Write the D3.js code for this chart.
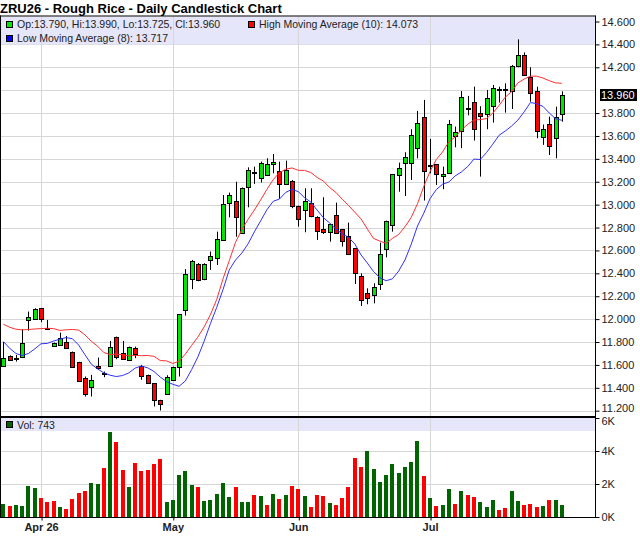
<!DOCTYPE html>
<html>
<head>
<meta charset="utf-8">
<script src="https://cdn.jsdelivr.net/npm/d3@7"></script>
<style>
  body { margin: 0; background: #fff; }
  svg { display: block; font-family: "Liberation Sans", Arial, sans-serif; }
</style>
</head>
<body>
<svg id="chart" width="640" height="536"></svg>
<script>
// trading sessions, 24 Mar - 31 Jul 2026
var dates = [
  '2026-03-24','2026-03-25','2026-03-26','2026-03-27','2026-03-30','2026-03-31',
  '2026-04-01','2026-04-02','2026-04-06','2026-04-07','2026-04-08','2026-04-09','2026-04-10',
  '2026-04-13','2026-04-14','2026-04-15','2026-04-16','2026-04-17','2026-04-20','2026-04-21',
  '2026-04-22','2026-04-23','2026-04-24','2026-04-27','2026-04-28','2026-04-29','2026-04-30',
  '2026-05-01','2026-05-04','2026-05-05','2026-05-06','2026-05-07','2026-05-08','2026-05-11',
  '2026-05-12','2026-05-13','2026-05-14','2026-05-15','2026-05-18','2026-05-19','2026-05-20',
  '2026-05-21','2026-05-22','2026-05-26','2026-05-27','2026-05-28','2026-05-29',
  '2026-06-01','2026-06-02','2026-06-03','2026-06-04','2026-06-05','2026-06-08','2026-06-09',
  '2026-06-10','2026-06-11','2026-06-12','2026-06-15','2026-06-16','2026-06-17','2026-06-18',
  '2026-06-22','2026-06-23','2026-06-24','2026-06-25','2026-06-26','2026-06-29','2026-06-30',
  '2026-07-01','2026-07-02','2026-07-06','2026-07-07','2026-07-08','2026-07-09','2026-07-10',
  '2026-07-13','2026-07-14','2026-07-15','2026-07-16','2026-07-17','2026-07-20','2026-07-21',
  '2026-07-22','2026-07-23','2026-07-24','2026-07-27','2026-07-28','2026-07-29','2026-07-30',
  '2026-07-31'
];

var opens = [
  11.597, 11.679, 11.655, 11.664, 11.993, 11.999, 12.095, 11.926, 11.766, 11.769,
  11.798, 11.711, 11.624, 11.484, 11.405, 11.592, 11.530, 11.597, 11.842, 11.702,
  11.644, 11.749, 11.592, 11.513, 11.440, 11.292, 11.344, 11.466, 11.583, 12.081,
  12.349, 12.479, 12.348, 12.517, 12.531, 12.691, 13.012, 13.032, 12.750, 13.151,
  13.285, 13.236, 13.260, 13.353, 13.298, 13.181, 13.210, 12.989, 12.954, 13.012,
  12.896, 12.788, 12.756, 12.910, 12.785, 12.726, 12.619, 12.377, 12.226, 12.217,
  12.307, 12.610, 12.822, 13.255, 13.368, 13.362, 13.493, 13.763, 13.335, 13.353,
  13.254, 13.274, 13.606, 13.638, 13.840, 13.897, 13.798, 13.792, 13.862, 14.014,
  14.011, 13.996, 14.212, 14.308, 14.113, 13.993, 13.589, 13.702, 13.580, 13.790
];
var highs = [
  11.800, 11.684, 11.687, 11.912, 12.066, 12.095, 12.098, 11.993, 11.795, 11.882,
  11.853, 11.717, 11.627, 11.499, 11.513, 11.664, 11.542, 11.810, 11.848, 11.810,
  11.760, 11.760, 11.600, 11.515, 11.442, 11.295, 11.510, 11.585, 12.045, 12.437,
  12.517, 12.490, 12.488, 12.590, 12.764, 13.084, 13.105, 13.200, 13.150, 13.326,
  13.332, 13.376, 13.405, 13.443, 13.376, 13.385, 13.215, 12.992, 13.143, 13.143,
  12.899, 13.065, 12.832, 13.018, 12.788, 12.843, 12.622, 12.400, 12.269, 12.313,
  12.668, 12.860, 13.268, 13.367, 13.458, 13.659, 13.819, 13.915, 13.574, 13.356,
  13.332, 13.740, 13.682, 13.993, 13.950, 14.031, 13.860, 14.002, 14.046, 14.030,
  14.060, 14.220, 14.444, 14.330, 14.200, 14.030, 13.700, 13.769, 13.856, 13.990
];
var lows = [
  11.595, 11.640, 11.629, 11.660, 11.900, 11.995, 11.973, 11.912, 11.760, 11.766,
  11.744, 11.578, 11.455, 11.324, 11.324, 11.568, 11.493, 11.594, 11.650, 11.650,
  11.640, 11.659, 11.470, 11.440, 11.237, 11.202, 11.340, 11.460, 11.499, 12.031,
  12.262, 12.330, 12.340, 12.430, 12.473, 12.688, 12.889, 12.720, 12.745, 12.977,
  13.181, 13.193, 13.255, 13.274, 13.050, 13.178, 12.969, 12.808, 12.759, 12.890,
  12.692, 12.744, 12.677, 12.752, 12.634, 12.565, 12.307, 12.115, 12.130, 12.138,
  12.255, 12.540, 12.764, 13.113, 13.076, 13.216, 13.405, 13.036, 13.274, 13.172,
  13.135, 13.270, 13.501, 13.493, 13.780, 13.560, 13.245, 13.659, 13.717, 13.892,
  13.804, 13.836, 14.200, 14.130, 13.900, 13.580, 13.522, 13.434, 13.405, 13.725
];
var closes = [
  11.664, 11.644, 11.660, 11.789, 12.016, 12.086, 11.999, 11.914, 11.789, 11.833,
  11.746, 11.580, 11.458, 11.344, 11.466, 11.571, 11.527, 11.760, 11.667, 11.653,
  11.755, 11.694, 11.507, 11.446, 11.292, 11.257, 11.493, 11.583, 12.043, 12.392,
  12.506, 12.337, 12.479, 12.552, 12.700, 13.006, 13.081, 12.889, 13.143, 13.303,
  13.280, 13.367, 13.353, 13.370, 13.181, 13.303, 12.989, 12.875, 13.030, 12.896,
  12.771, 12.765, 12.829, 12.756, 12.683, 12.569, 12.400, 12.167, 12.182, 12.284,
  12.566, 12.857, 13.265, 13.320, 13.420, 13.606, 13.711, 13.289, 13.347, 13.262,
  13.270, 13.702, 13.638, 13.938, 13.833, 13.659, 13.775, 13.930, 14.017, 14.002,
  13.999, 14.212, 14.308, 14.130, 13.973, 13.644, 13.659, 13.507, 13.763, 13.960
];
var volumes = [
  800, 680, 740, 680, 1880, 1760, 1160, 920, 1000, 620,
  500, 1100, 1480, 1600, 2060, 2000, 2960, 5180, 4520, 2840,
  1820, 3260, 2780, 2840, 3200, 3500, 920, 1040, 2540, 2780,
  1940, 1820, 1000, 1040, 1400, 2060, 1220, 1820, 920, 920,
  1340, 1280, 740, 1400, 1100, 1340, 1880, 1700, 1280, 620,
  1340, 1280, 860, 740, 1160, 1820, 3560, 3020, 3980, 2900,
  2120, 2540, 3200, 2660, 3020, 3320, 4580, 2480, 1160, 680,
  740, 1700, 800, 1580, 1340, 1220, 920, 620, 1040, 440,
  560, 1580, 980, 740, 800, 620, 680, 1040, 1040, 743
];

// moving average values before a full window is available
var highMAHead = [11.955, 11.929, 11.912, 11.906, 11.909, 11.914, 11.917, 11.920, 11.917];
var lowMAHead = [11.804, 11.745, 11.700, 11.682, 11.700, 11.740, 11.785];
var highMAPeriod = 10, lowMAPeriod = 8;
var lastHighMA = 14.073, lastLowMA = 13.717;

var priceTicks = [11.2, 11.4, 11.6, 11.8, 12.0, 12.2, 12.4, 12.6, 12.8, 13.0,
  13.2, 13.4, 13.6, 13.8, 14.0, 14.2, 14.4, 14.6];
var volTicks = [0, 2000, 4000, 6000];
var volTickLabels = ['0K', '2K', '4K', '6K'];
var monthLabels = ['Apr 26', 'May', 'Jun', 'Jul'];

var GREEN = '#00e600', RED = '#ff0000', VOLGREEN = '#006400', BAND = '#e6e6fa', GRID = '#d6d6d6';

function movingAvg(values, period, head) {
  return values.map(function(v, i) {
    if (i < period - 1) return head[i];
    return d3.mean(values.slice(i - period + 1, i + 1));
  });
}
var highMA = movingAvg(highs, highMAPeriod, highMAHead);
var lowMA = movingAvg(lows, lowMAPeriod, lowMAHead);

// first session of each month after the first one shown
var monthIdx = [];
dates.forEach(function(d, i) {
  if (i > 0 && d.slice(5, 7) !== dates[i - 1].slice(5, 7)) monthIdx.push(i);
});

var svg = d3.select('#chart');
var axisX = 595.5, priceTop = 16.5, sepY = 417, volBot = 517.5;

var x = d3.scaleLinear().domain([0, dates.length - 1]).range([3.4, 561.8]);
var y = d3.scaleLinear().domain([11.2, 14.6]).range([410.7, 21.5]);
var yv = d3.scaleLinear().domain([0, 6000]).range([517, 418]);
function px(v) { return Math.round(v) + 0.5; }

// title
svg.append('text')
  .attr('x', 0).attr('y', 12.5)
  .attr('font-size', 13).attr('font-weight', 'bold').attr('fill', '#000')
  .text('ZRU26 - Rough Rice - Daily Candlestick Chart');

// horizontal grid
svg.append('g').selectAll('line').data(priceTicks).enter().append('line')
  .attr('x1', 0).attr('x2', axisX)
  .attr('y1', function(d) { return px(y(d)); }).attr('y2', function(d) { return px(y(d)); })
  .attr('stroke', GRID);
svg.append('g').selectAll('line').data(volTicks.slice(1, 3)).enter().append('line')
  .attr('x1', 0).attr('x2', axisX)
  .attr('y1', function(d) { return px(yv(d)); }).attr('y2', function(d) { return px(yv(d)); })
  .attr('stroke', GRID);

// legend bands
svg.append('rect').attr('x', 0).attr('y', priceTop).attr('width', axisX).attr('height', 28)
  .attr('fill', BAND);
svg.append('rect').attr('x', 0).attr('y', sepY + 1).attr('width', axisX).attr('height', 13)
  .attr('fill', BAND);

// vertical grid at month starts
svg.append('g').selectAll('line').data(monthIdx).enter().append('line')
  .attr('x1', function(d) { return px(x(d)); }).attr('x2', function(d) { return px(x(d)); })
  .attr('y1', priceTop).attr('y2', volBot)
  .attr('stroke', GRID);

// candles
var candles = svg.append('g').selectAll('g').data(dates).enter().append('g');
candles.append('line')
  .attr('x1', function(d, i) { return Math.round(x(i)) + 0.5; })
  .attr('x2', function(d, i) { return Math.round(x(i)) + 0.5; })
  .attr('y1', function(d, i) { return y(highs[i]); })
  .attr('y2', function(d, i) { return y(lows[i]); })
  .attr('stroke', '#000').attr('stroke-width', 1);
candles.append('rect')
  .attr('x', function(d, i) { return Math.round(x(i)) - 1.5; })
  .attr('width', 4)
  .attr('y', function(d, i) { return Math.round(y(Math.max(opens[i], closes[i]))) + 0.5; })
  .attr('height', function(d, i) {
    return Math.max(1, Math.round(Math.abs(y(opens[i]) - y(closes[i]))));
  })
  .attr('fill', function(d, i) { return closes[i] >= opens[i] ? GREEN : RED; })
  .attr('stroke', '#000').attr('stroke-width', 1);

// moving averages
var maLine = d3.line().x(function(d, i) { return x(i); }).y(function(d) { return y(d); });
svg.append('path').datum(highMA).attr('d', maLine)
  .attr('fill', 'none').attr('stroke', '#ff3030').attr('stroke-width', 1);
svg.append('path').datum(lowMA).attr('d', maLine)
  .attr('fill', 'none').attr('stroke', '#3030ff').attr('stroke-width', 1);

// volume bars, coloured by change from previous close
svg.append('g').selectAll('rect').data(volumes).enter().append('rect')
  .attr('x', function(d, i) { return Math.round(x(i)) - 2; })
  .attr('width', 4)
  .attr('y', function(d) { return yv(d); })
  .attr('height', function(d) { return yv(0) - yv(d); })
  .attr('fill', function(d, i) { return i === 0 || closes[i] >= closes[i - 1] ? VOLGREEN : RED; })
  .attr('shape-rendering', 'crispEdges');

// legends
function swatch(xp, yp, color) {
  svg.append('rect').attr('x', xp + 0.5).attr('y', yp + 0.5).attr('width', 6).attr('height', 6)
    .attr('fill', color).attr('stroke', '#000');
}
function legendText(xp, yp, str) {
  svg.append('text').attr('x', xp).attr('y', yp).attr('font-size', 10.5).attr('fill', '#222').text(str);
}
var last = dates.length - 1, f3 = d3.format('.3f');
swatch(6, 21, GREEN);
legendText(17, 28, 'Op:' + f3(opens[last]) + ', Hi:' + f3(highs[last]) + ', Lo:' + f3(lows[last]) + ', Cl:' + f3(closes[last]));
swatch(248, 21, RED);
legendText(259, 28, 'High Moving Average (' + highMAPeriod + '): ' + f3(lastHighMA));
swatch(6, 35, '#0000ff');
legendText(17, 42, 'Low Moving Average (' + lowMAPeriod + '): ' + f3(lastLowMA));
swatch(6, 421, VOLGREEN);
legendText(17, 428.5, 'Vol: ' + volumes[last]);

// frame
svg.append('line').attr('x1', 0).attr('x2', axisX).attr('y1', priceTop - 0.5).attr('y2', priceTop - 0.5)
  .attr('stroke', '#000');
svg.append('line').attr('x1', 0).attr('x2', axisX).attr('y1', sepY).attr('y2', sepY)
  .attr('stroke', '#000').attr('stroke-width', 2);
svg.append('line').attr('x1', 0.5).attr('x2', 0.5).attr('y1', priceTop - 1).attr('y2', volBot)
  .attr('stroke', '#000');

// price axis
var curY = y(closes[last]);
var priceAxis = d3.axisRight(y)
  .tickValues(priceTicks.filter(function(t) { return Math.abs(y(t) - curY) > 10; }))
  .tickFormat(d3.format('.3f')).tickSize(4).tickSizeOuter(0).tickPadding(2);
var pa = svg.append('g').attr('transform', 'translate(' + axisX + ',0)').call(priceAxis);
pa.select('.domain').remove();
pa.selectAll('text').attr('font-size', 11).attr('fill', '#222').attr('font-family', '"Liberation Sans", Arial, sans-serif');
// lowest price label sits just above the panel separator
pa.selectAll('.tick').filter(function(d) { return d === priceTicks[0]; })
  .select('text').attr('dy', '0.1em');

// current close marker on the axis
svg.append('rect').attr('x', 600).attr('y', Math.round(curY) - 6).attr('width', 37).attr('height', 12)
  .attr('fill', '#000');
svg.append('text').attr('x', 601).attr('y', curY).attr('dy', '0.35em')
  .attr('font-size', 11).attr('fill', '#fff').text(f3(closes[last]));

// volume axis
var volAxis = d3.axisRight(yv).tickValues(volTicks)
  .tickFormat(function(d, k) { return volTickLabels[k]; })
  .tickSize(4).tickSizeOuter(0).tickPadding(2);
var va = svg.append('g').attr('transform', 'translate(' + axisX + ',0)').call(volAxis);
va.select('.domain').remove();
va.selectAll('text').attr('font-size', 11).attr('fill', '#222').attr('font-family', '"Liberation Sans", Arial, sans-serif');
// top volume label nudged below the separator so it clears the price labels
va.selectAll('.tick').filter(function(d) { return d === volTicks[volTicks.length - 1]; })
  .select('text').attr('dy', '0.62em');

svg.append('line').attr('x1', axisX).attr('x2', axisX).attr('y1', priceTop - 1).attr('y2', volBot + 0.5)
  .attr('stroke', '#000');

// time axis
var timeAxis = d3.axisBottom(x).tickValues(monthIdx)
  .tickFormat(function(d, k) { return monthLabels[k]; })
  .tickSize(3).tickSizeOuter(0).tickPadding(3);
var ta = svg.append('g').attr('transform', 'translate(0,' + volBot + ')').call(timeAxis);
ta.select('.domain').remove();
ta.selectAll('.tick line').attr('transform', function() { return 'translate(0.5,0)'; });
ta.selectAll('text').attr('font-size', 11).attr('font-weight', 'bold').attr('fill', '#222')
  .attr('font-family', '"Liberation Sans", Arial, sans-serif');
svg.append('line').attr('x1', 0).attr('x2', axisX).attr('y1', volBot).attr('y2', volBot)
  .attr('stroke', '#000');
</script>
</body>
</html>
